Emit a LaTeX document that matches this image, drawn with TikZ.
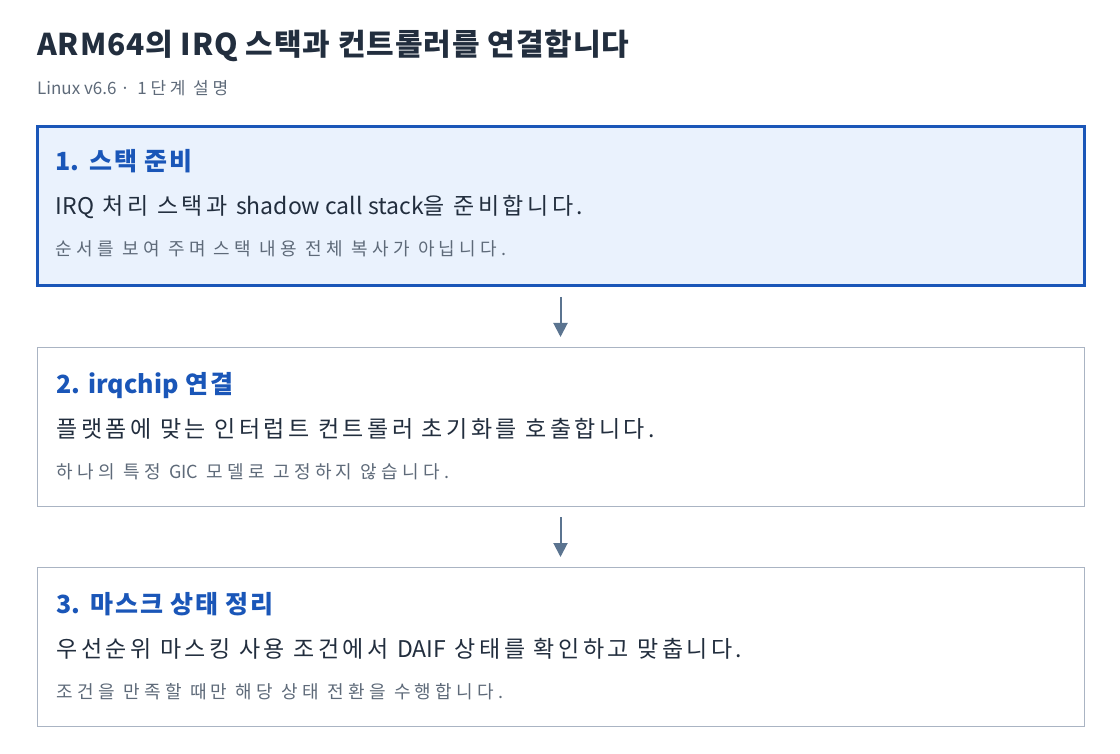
\documentclass[tikz,border=0pt]{standalone}
\usepackage{fontspec}
\setmainfont{Noto Sans CJK KR}
\newfontfamily\ttlfont[LetterSpace=3]{Noto Sans CJK KR}
\newfontfamily\subfont[LetterSpace=22]{Noto Sans CJK KR}
\newfontfamily\headfont[LetterSpace=7]{Noto Sans CJK KR}
\newfontfamily\mainfont[LetterSpace=15]{Noto Sans CJK KR}
\newfontfamily\notefont[LetterSpace=24]{Noto Sans CJK KR}
\newcommand{\lat}[1]{{\rmfamily #1}}
\usetikzlibrary{positioning,arrows.meta}
\definecolor{ink}{HTML}{222E3E}
\definecolor{muted}{HTML}{5E6A79}
\definecolor{accent}{HTML}{1A56B8}
\definecolor{accentbg}{HTML}{EAF2FD}
\definecolor{edge}{HTML}{AAB4C3}
\definecolor{arrowc}{HTML}{5B7490}

\begin{document}
\begin{tikzpicture}[x=1pt,y=1pt,
		stepbox/.style={draw=edge,fill=white,line width=1pt,minimum width=1047pt,minimum height=159pt,inner sep=0pt},
		curbox/.style={stepbox,draw=accent,fill=accentbg,line width=3pt},
		ttl/.style={anchor=base west,inner sep=0pt,text=ink,font=\fontsize{30}{34}\ttlfont\bfseries},
		sub/.style={anchor=base west,inner sep=0pt,text=muted,font=\fontsize{17}{20}\subfont},
		head/.style={anchor=base west,inner sep=0pt,text=accent,font=\fontsize{25}{28}\headfont\bfseries},
		main/.style={anchor=base west,inner sep=0pt,text=ink,font=\fontsize{23}{26}\mainfont},
		note/.style={anchor=base west,inner sep=0pt,text=muted,font=\fontsize{18}{21}\notefont},
		flow/.style={-{Triangle[length=14pt,width=14pt]},line width=2pt,draw=arrowc,shorten <=10pt,shorten >=10pt}]
	\useasboundingbox (0,0) rectangle (1120,-754);

	\node[ttl]	(title)		at (37,-56)	{ARM64의 IRQ 스택과 컨트롤러를 연결합니다};
	\node[sub]	(subtitle)	at (37,-95)	{\lat{Linux v6.6 ·} 1단계 설명};

	\node[curbox]								(b1)	at (560.5,-206)	{};
	\node[stepbox,node distance=60pt,below=of b1]	(b2)	{};
	\node[stepbox,node distance=60pt,below=of b2]	(b3)	{};

	% text in the boxes, baselines from the top edge
	\node[head]	(h1)	at ([xshift=20pt,yshift=-46pt]b1.north west)	{\lat{1.} 스택 준비};
	\node[main]	(m1)	at ([xshift=20pt,yshift=-90pt]b1.north west)	{\lat{IRQ} 처리 스택과 \lat{shadow call stack}을 준비합니다.};
	\node[note]	(n1)	at ([xshift=20pt,yshift=-131pt]b1.north west)	{순서를 보여 주며 스택 내용 전체 복사가 아닙니다.};

	\node[head]	(h2)	at ([xshift=20pt,yshift=-46pt]b2.north west)	{\lat{2. irqchip} 연결};
	\node[main]	(m2)	at ([xshift=20pt,yshift=-90pt]b2.north west)	{플랫폼에 맞는 인터럽트 컨트롤러 초기화를 호출합니다.};
	\node[note]	(n2)	at ([xshift=20pt,yshift=-131pt]b2.north west)	{하나의 특정 \lat{GIC} 모델로 고정하지 않습니다.};

	\node[head]	(h3)	at ([xshift=20pt,yshift=-46pt]b3.north west)	{\lat{3.} 마스크 상태 정리};
	\node[main]	(m3)	at ([xshift=20pt,yshift=-90pt]b3.north west)	{우선순위 마스킹 사용 조건에서 \lat{DAIF} 상태를 확인하고 맞춥니다.};
	\node[note]	(n3)	at ([xshift=20pt,yshift=-131pt]b3.north west)	{조건을 만족할 때만 해당 상태 전환을 수행합니다.};

	\draw[flow] (b1) -- (b2);
	\draw[flow] (b2) -- (b3);
\end{tikzpicture}
\end{document}
